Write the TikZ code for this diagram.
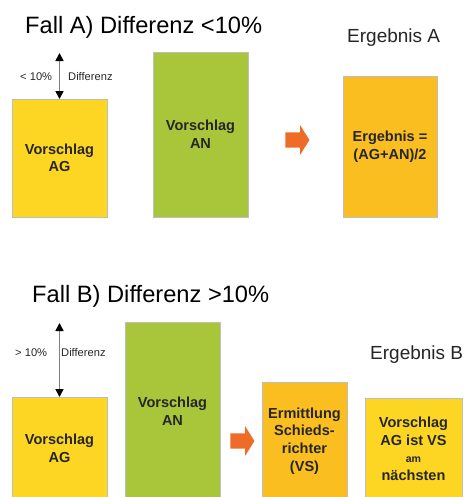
\documentclass[tikz,border=0pt]{standalone}
\usepackage{fontspec}
\setmainfont{Liberation Sans}
\usetikzlibrary{arrows.meta,shapes.arrows}
\definecolor{agyellow}{RGB}{253,214,35}
\definecolor{angreen}{RGB}{169,198,59}
\definecolor{resorange}{RGB}{250,190,32}
\definecolor{arrorange}{RGB}{238,108,40}
\definecolor{boxline}{RGB}{190,190,190}
\tikzset{
  box/.style={draw=boxline, line width=.6pt, inner sep=0, outer sep=0, align=center,
    text=black!85, font=\bfseries\fontsize{12.4}{15}\selectfont},
  heading/.style={inner sep=0, anchor=base west, font=\fontsize{20.2}{24}\selectfont},
  result/.style={inner sep=0, anchor=base west, text=black!85, font=\fontsize{16.2}{19}\selectfont},
  small/.style={inner sep=0, anchor=base west, text=black!85, font=\fontsize{9.5}{11}\selectfont},
  diffarrow/.style={draw=gray, line width=1.3pt,
    {Triangle[length=2.4mm,width=2.4mm,color=black]}-{Triangle[length=2.4mm,width=2.4mm,color=black]}},
  blockarrow/.style={single arrow, fill=arrorange, inner sep=.225cm, minimum height=.72cm,
    single arrow head extend=.21cm, single arrow tip angle=116}
}
\begin{document}
\begin{tikzpicture}[x=.03cm, y=-.03cm]
\clip (0,0) rectangle (465,497);
\fill[white] (0,0) rectangle (465,497);
% Fall A
\node (titleA) [heading] at (25,33) {Fall A) Differenz <10\%};
\node (ergA) [result] at (347,42) {Ergebnis A};
\node (agA) [box, fill=agyellow, minimum width=2.85cm, minimum height=3.54cm] at (59.5,158) {Vorschlag\\AG};
\node (anA) [box, fill=angreen, minimum width=2.85cm, minimum height=4.95cm] at (200.5,134.5) {Vorschlag\\AN};
\node (resA) [box, fill=resorange, minimum width=2.82cm, minimum height=4.23cm] at (390,146.5) {Ergebnis =\\(AG+AN)/2};
\node (arrA) [blockarrow] at (295,140) {};
\coordinate (topA) at (59.5,53);
\draw[diffarrow] (topA) -- (agA.north);
\node (ltA) [small] at (20,80) {< 10\%};
\node (diffA) [small] at (68,80) {Differenz};
% Fall B
\node (titleB) [heading] at (32,302) {Fall B) Differenz >10\%};
\node (ergB) [result] at (370,359) {Ergebnis B};
\node (agB) [box, fill=agyellow, minimum width=2.85cm, minimum height=3.09cm] at (59.5,448.5) {Vorschlag\\AG};
\node (anB) [box, fill=angreen, minimum width=2.85cm, minimum height=5.34cm] at (172.5,411) {Vorschlag\\AN};
\node (ermB) [box, fill=resorange, minimum width=2.55cm, minimum height=3.54cm] at (304.5,441) {Ermittlung\\Schieds-\\richter\\(VS)};
\node (vsB) [box, fill=agyellow, minimum width=2.91cm, minimum height=3.06cm] at (413.5,449) {Vorschlag\\AG ist VS\\{\fontsize{9}{15}\selectfont am}\\n\"achsten};
\node (arrB) [blockarrow] at (240,441) {};
\coordinate (topB) at (59.5,323);
\draw[diffarrow] (topB) -- (agB.north);
\node (gtB) [small] at (15,356) {> 10\%};
\node (diffB) [small] at (61,356) {Differenz};
\end{tikzpicture}
\end{document}
